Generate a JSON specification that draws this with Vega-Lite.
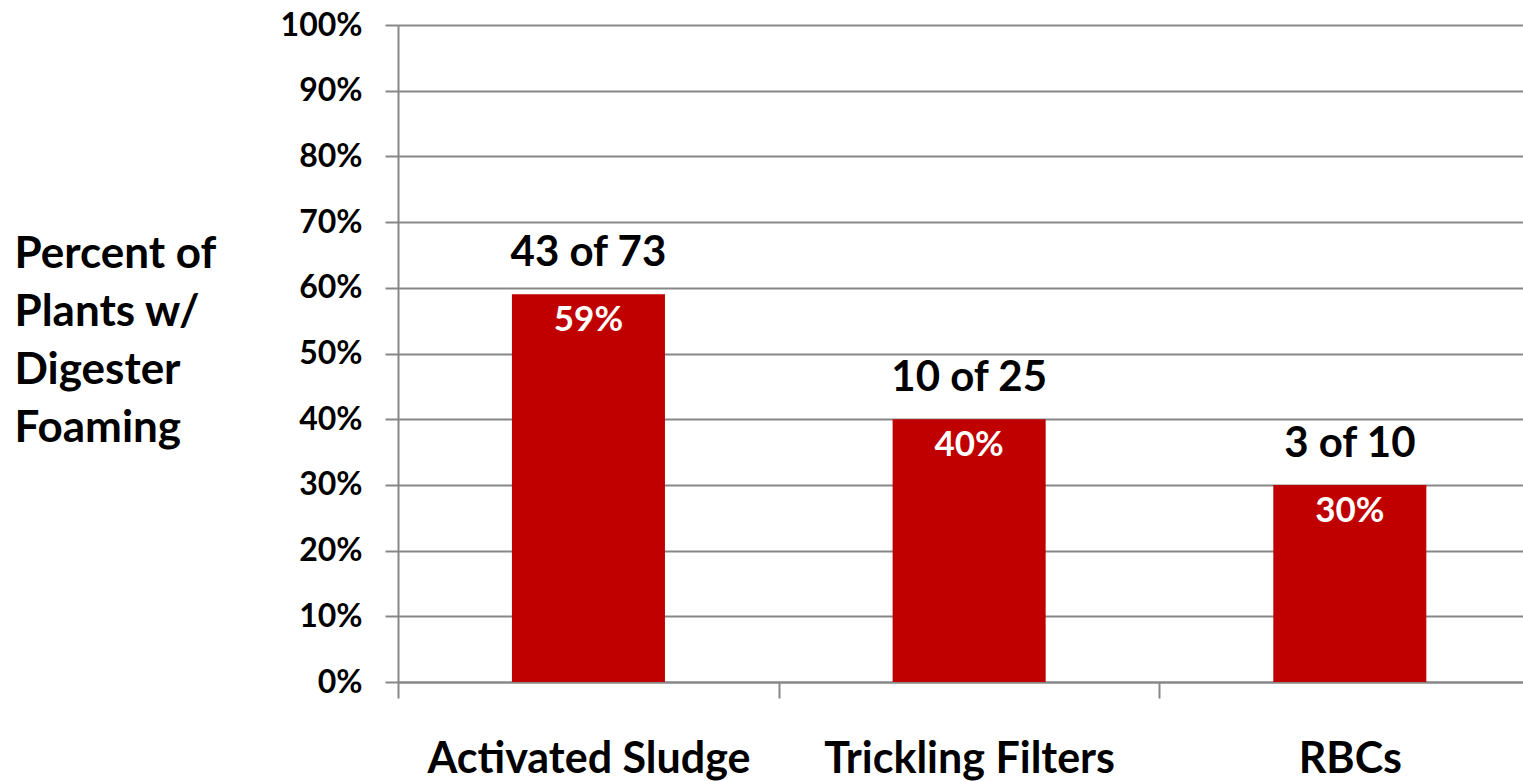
{
  "$schema": "https://vega.github.io/schema/vega-lite/v6.json",
  "autosize": {"type": "none"},
  "padding": {"left": 398, "top": 25, "right": 0, "bottom": 99},
  "width": 1125,
  "height": 657,
  "background": "white",
  "config": {
    "view": {"stroke": null},
    "font": "Lato",
    "axis": {"labelFont": "Lato", "titleFont": "Lato"}
  },
  "data": {
    "values": [
      {"process": "Activated Sludge", "share": 0.59, "count": "43 of 73", "pct": "59%"},
      {"process": "Trickling Filters", "share": 0.40, "count": "10 of 25", "pct": "40%"},
      {"process": "RBCs", "share": 0.30, "count": "3 of 10", "pct": "30%"}
    ]
  },
  "encoding": {
    "x": {
      "field": "process",
      "type": "nominal",
      "sort": null,
      "scale": {"paddingInner": 0.598, "paddingOuter": 0.2766, "align": 0.541},
      "axis": {
        "title": null,
        "labelAngle": 0,
        "labelFontSize": 43,
        "labelFontWeight": "bold",
        "labelColor": "#000000",
        "labelBaseline": "alphabetic",
        "labelPadding": 74,
        "labelLimit": 0,
        "tickSize": 16,
        "tickWidth": 2,
        "tickColor": "#878787",
        "tickOffset": -190.35,
        "labelOffset": 190.35,
        "domainColor": "#878787",
        "domainWidth": 2,
        "grid": false
      }
    },
    "y": {
      "field": "share",
      "type": "quantitative",
      "scale": {"domain": [0, 1]},
      "axis": {
        "values": [0, 0.1, 0.2, 0.3, 0.4, 0.5, 0.6, 0.7, 0.8, 0.9, 1],
        "format": ".0%",
        "labelFontSize": 32,
        "labelFontWeight": "bold",
        "labelColor": "#000000",
        "labelPadding": 23,
        "tickSize": 13,
        "tickWidth": 2,
        "tickColor": "#878787",
        "domainColor": "#878787",
        "domainWidth": 2,
        "grid": true,
        "gridColor": "#878787",
        "gridWidth": 2,
        "title": ["Percent of", "Plants w/", "Digester", "Foaming"],
        "titleFontSize": 44,
        "titleFontWeight": "bold",
        "titleColor": "#000000",
        "titleAngle": 0,
        "titleAlign": "left",
        "titleBaseline": "alphabetic",
        "titleLineHeight": 58,
        "titleX": -384,
        "titleY": 242
      }
    }
  },
  "layer": [
    {"mark": {"type": "bar", "color": "#C00000"}},
    {
      "mark": {"type": "text", "baseline": "alphabetic", "dy": -28, "fontSize": 42, "fontWeight": "bold", "color": "#000000"},
      "encoding": {"text": {"field": "count"}}
    },
    {
      "mark": {"type": "text", "baseline": "alphabetic", "dy": 37, "fontSize": 35, "fontWeight": "bold", "color": "#FFFFFF"},
      "encoding": {"text": {"field": "pct"}}
    }
  ]
}
